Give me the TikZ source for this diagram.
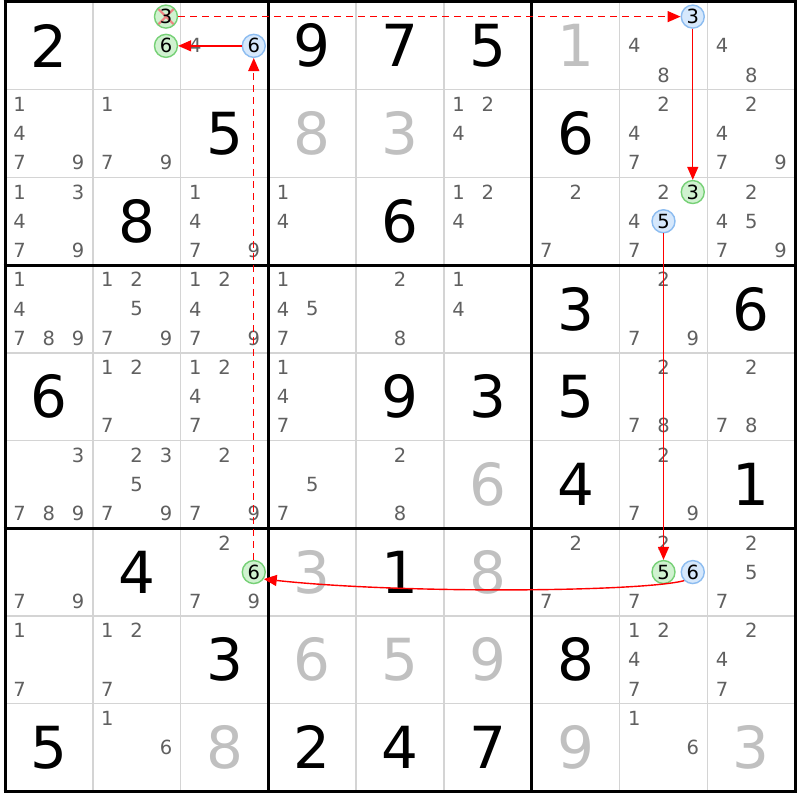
\documentclass[tikz,border=0pt]{standalone}
\usepackage{fontspec}
\setmainfont{DejaVu Sans}
\usetikzlibrary{arrows.meta}
\definecolor{candc}{RGB}{96,96,96}
\definecolor{solvedc}{RGB}{192,192,192}
\definecolor{thinc}{RGB}{212,212,212}
\definecolor{gfill}{RGB}{208,242,208}
\definecolor{gline}{RGB}{118,208,118}
\definecolor{bfill}{RGB}{214,232,252}
\definecolor{bline}{RGB}{140,188,240}
\definecolor{xpink}{RGB}{240,130,130}
\definecolor{linkred}{RGB}{255,0,0}
\newcommand{\CW}{87.8}
\newcommand{\CH}{87.7}
\tikzset{
  bigd/.style={inner sep=0pt, font=\fontsize{58}{58}\selectfont},
  given/.style={bigd, text=black},
  solved/.style={bigd, text=solvedc},
  cand/.style={inner sep=0pt, font=\fontsize{19.5}{19.5}\selectfont, text=candc},
  gcirc/.style={circle, draw=gline, fill=gfill, line width=1.4pt, minimum size=23pt, inner sep=0pt, font=\fontsize{19.5}{19.5}\selectfont, text=black},
  bcirc/.style={gcirc, draw=bline, fill=bfill},
  crossed/.style={path picture={
      \draw[xpink, line width=2.2pt] (path picture bounding box.south west) -- (path picture bounding box.north east);
      \draw[xpink, line width=2.2pt] (path picture bounding box.north west) -- (path picture bounding box.south east);}},
  link/.style={draw=linkred, line width=1.4pt, -{Triangle[length=13pt,width=11pt]}},
  weak/.style={link, dash pattern=on 7pt off 5pt},
}
\newcommand{\bigdig}[4]{\node[#4] (d#1#2) at ({5+(#2-0.5)*\CW},{2+(#1-0.5)*\CH}) {#3};}
\newcommand{\cands}[3]{\foreach \dd in {#3}{%
  \pgfmathtruncatemacro{\mysr}{int((\dd-1)/3)}%
  \pgfmathtruncatemacro{\mysc}{mod(\dd-1,3)}%
  \node[cand] (c#1#2\dd) at ({5+(#2-1)*\CW+(\mysc+0.5)*\CW/3},{2+(#1-1)*\CH+(\mysr+0.5)*\CH/3}) {\dd};}}
\newcommand{\ccand}[5]{%
  \pgfmathtruncatemacro{\mysr}{int((#3-1)/3)}%
  \pgfmathtruncatemacro{\mysc}{mod(#3-1,3)}%
  \node[#4] (#5) at ({5+(#2-1)*\CW+(\mysc+0.5)*\CW/3},{2+(#1-1)*\CH+(\mysr+0.5)*\CH/3}) {#3};}
\begin{document}
\begin{tikzpicture}[x=1pt,y=-1pt]
\useasboundingbox (0,0) rectangle (800,800);
\fill[white] (0,0) rectangle (800,800);
% thin grid lines
\foreach \i in {1,2,4,5,7,8}{
  \draw[thinc, line width=1.5pt] ({5+\i*\CW},2) -- ({5+\i*\CW},{2+9*\CH});
  \draw[thinc, line width=1.5pt] (5,{2+\i*\CH}) -- ({5+9*\CW},{2+\i*\CH});
}
% thick lines
\foreach \i in {0,3,6,9}{
  \draw[black, line width=3pt] ({5+\i*\CW},0.5) -- ({5+\i*\CW},{2+9*\CH+1.5});
  \draw[black, line width=3pt] (3.5,{2+\i*\CH}) -- ({5+9*\CW+1.5},{2+\i*\CH});
}
% givens
\bigdig{1}{1}{2}{given}\bigdig{1}{4}{9}{given}\bigdig{1}{5}{7}{given}\bigdig{1}{6}{5}{given}
\bigdig{2}{3}{5}{given}\bigdig{2}{7}{6}{given}
\bigdig{3}{2}{8}{given}\bigdig{3}{5}{6}{given}
\bigdig{4}{7}{3}{given}\bigdig{4}{9}{6}{given}
\bigdig{5}{1}{6}{given}\bigdig{5}{5}{9}{given}\bigdig{5}{6}{3}{given}\bigdig{5}{7}{5}{given}
\bigdig{6}{7}{4}{given}\bigdig{6}{9}{1}{given}
\bigdig{7}{2}{4}{given}\bigdig{7}{5}{1}{given}
\bigdig{8}{3}{3}{given}\bigdig{8}{7}{8}{given}
\bigdig{9}{1}{5}{given}\bigdig{9}{4}{2}{given}\bigdig{9}{5}{4}{given}\bigdig{9}{6}{7}{given}
% solved
\bigdig{1}{7}{1}{solved}\bigdig{2}{4}{8}{solved}\bigdig{2}{5}{3}{solved}\bigdig{6}{6}{6}{solved}
\bigdig{7}{4}{3}{solved}\bigdig{7}{6}{8}{solved}\bigdig{8}{4}{6}{solved}\bigdig{8}{5}{5}{solved}
\bigdig{8}{6}{9}{solved}\bigdig{9}{3}{8}{solved}\bigdig{9}{7}{9}{solved}\bigdig{9}{9}{3}{solved}
% candidates
\cands{1}{3}{4}\cands{1}{8}{4,8}\cands{1}{9}{4,8}
\cands{2}{1}{1,4,7,9}\cands{2}{2}{1,7,9}\cands{2}{6}{1,2,4}\cands{2}{8}{2,4,7}\cands{2}{9}{2,4,7,9}
\cands{3}{1}{1,3,4,7,9}\cands{3}{3}{1,4,7,9}\cands{3}{4}{1,4}\cands{3}{6}{1,2,4}\cands{3}{7}{2,7}\cands{3}{8}{2,4,7}\cands{3}{9}{2,4,5,7,9}
\cands{4}{1}{1,4,7,8,9}\cands{4}{2}{1,2,5,7,9}\cands{4}{3}{1,2,4,7,9}\cands{4}{4}{1,4,5,7}\cands{4}{5}{2,8}\cands{4}{6}{1,4}\cands{4}{8}{2,7,9}
\cands{5}{2}{1,2,7}\cands{5}{3}{1,2,4,7}\cands{5}{4}{1,4,7}\cands{5}{8}{2,7,8}\cands{5}{9}{2,7,8}
\cands{6}{1}{3,7,8,9}\cands{6}{2}{2,3,5,7,9}\cands{6}{3}{2,7,9}\cands{6}{4}{5,7}\cands{6}{5}{2,8}\cands{6}{8}{2,7,9}
\cands{7}{1}{7,9}\cands{7}{3}{2,7,9}\cands{7}{7}{2,7}\cands{7}{8}{2,7}\cands{7}{9}{2,5,7}
\cands{8}{1}{1,7}\cands{8}{2}{1,2,7}\cands{8}{8}{1,2,4,7}\cands{8}{9}{2,4,7}
\cands{9}{2}{1,6}\cands{9}{8}{1,6}
% circled candidates
\ccand{1}{2}{3}{gcirc,crossed}{g123}
\ccand{1}{2}{6}{gcirc}{g126}
\ccand{1}{3}{6}{bcirc}{b136}
\ccand{1}{8}{3}{bcirc}{b183}
\ccand{3}{8}{3}{gcirc}{g383}
\ccand{3}{8}{5}{bcirc}{b385}
\ccand{7}{3}{6}{gcirc}{g736}
\ccand{7}{8}{5}{gcirc}{g785}
\ccand{7}{8}{6}{bcirc}{b786}
% links
\draw[weak] (g123) -- (b183);
\draw[link] (b183) -- (g383);
\draw[link] (b385) -- (g785);
\draw[link] (b786.225) .. controls (640,592) and (400,594) .. (g736.325);
\draw[weak] (g736) -- (b136);
\draw[link] (b136) -- (g126);
\end{tikzpicture}
\end{document}
